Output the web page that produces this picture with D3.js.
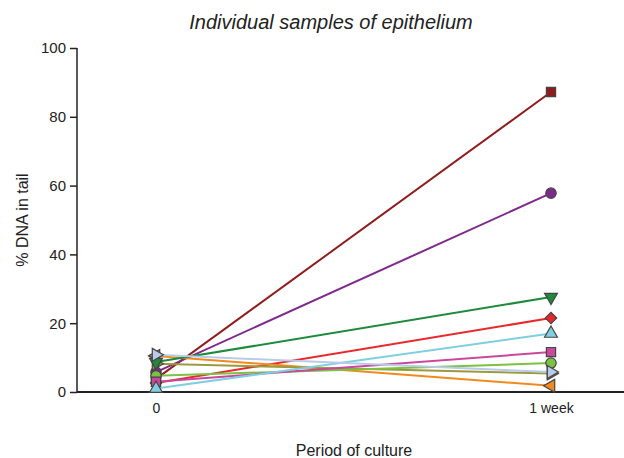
<!DOCTYPE html>
<html>
<head>
<meta charset="utf-8">
<script src="https://cdn.jsdelivr.net/npm/d3@7"></script>
<style>
body { margin: 0; background: #fff; }
text { font-family: "Liberation Sans", Arial, sans-serif; fill: #222; }
</style>
</head>
<body>
<div id="chart"></div>
<script>
var periods = ['0', '1 week'];
var samples = ['s1', 's2', 's3', 's4', 's5', 's6', 's7', 's8', 's9', 's10'];
var week0 = [3.8, 5.8, 2.6, 10.5, 8.2, 4.7, 3.0, 1.0, 8.7, 10.8];
var week1 = [87.2, 57.8, 21.5, 1.8, 5.4, 8.4, 11.6, 17.0, 27.6, 5.8];
var colors = ['#8f1d1d', '#7d2a8c', '#e8282a', '#f08a1e', '#9c9a3e', '#7cc242', '#c9489b', '#7fcfe0', '#1e8a3c', '#b9cbe9'];
var shapes = ['square', 'circle', 'diamond', 'left', 'right', 'circle', 'square', 'up', 'down', 'right'];
var yTicks = [0, 20, 40, 60, 80, 100];

var margin = {top: 48, bottom: 66, left: 77, right: 0};
var width = 624 - margin.left - margin.right,
    height = 458 - margin.top - margin.bottom;

var svg = d3.select('#chart').append('svg')
    .attr('width', 624)
    .attr('height', 458);

var g = svg.append('g')
    .attr('transform', 'translate(' + margin.left + ',' + margin.top + ')');

var x = d3.scalePoint()
    .domain(periods)
    .range([79, 474]);

var y = d3.scaleLinear()
    .domain([0, 100])
    .range([height, 0]);

var yAxisCall = d3.axisLeft(y).tickValues(yTicks).tickSize(7).tickPadding(4);
var yAxis = g.append('g')
    .attr('class', 'y-axis')
    .call(yAxisCall);
yAxis.select('.domain').attr('stroke', '#222').attr('stroke-width', 1.5)
    .attr('d', 'M0,0V' + height);
yAxis.selectAll('.tick line').attr('stroke', '#222').attr('stroke-width', 1.5);
yAxis.selectAll('text').attr('font-size', '15px').attr('fill', '#222');

var xAxisCall = d3.axisBottom(x).tickSize(0).tickPadding(11);
var xAxis = g.append('g')
    .attr('class', 'x-axis')
    .attr('transform', 'translate(0,' + height + ')')
    .call(xAxisCall);
xAxis.select('.domain').attr('stroke', '#222').attr('stroke-width', 2)
    .attr('d', 'M0,0H' + width);
xAxis.selectAll('text').attr('font-size', '14px').attr('fill', '#222');

var series = samples.map(function (s, i) {
    return {name: s, values: [week0[i], week1[i]], color: colors[i], shape: shapes[i]};
});

var line = d3.line()
    .x(function (d, i) { return x(periods[i]); })
    .y(function (d) { return y(d); });

g.selectAll('.series-line')
    .data(series)
    .enter()
    .append('path')
    .attr('class', 'series-line')
    .attr('fill', 'none')
    .attr('stroke', function (d) { return d.color; })
    .attr('stroke-width', 2)
    .attr('d', function (d) { return line(d.values); });

function symbolFor(shape) {
    if (shape === 'circle') return {type: d3.symbolCircle, size: 85, rot: 0};
    if (shape === 'square') return {type: d3.symbolSquare, size: 85, rot: 0};
    if (shape === 'diamond') return {type: d3.symbolSquare, size: 65, rot: 45};
    var rot = {up: 0, right: 90, down: 180, left: -90}[shape];
    return {type: d3.symbolTriangle, size: 72, rot: rot};
}

series.forEach(function (s) {
    var sym = symbolFor(s.shape);
    g.selectAll(null)
        .data(s.values)
        .enter()
        .append('path')
        .attr('d', d3.symbol().type(sym.type).size(sym.size))
        .attr('transform', function (d, i) {
            return 'translate(' + x(periods[i]) + ',' + y(d) + ') rotate(' + sym.rot + ')';
        })
        .attr('fill', s.color)
        .attr('stroke', '#444')
        .attr('stroke-width', 1.2);
});

svg.append('text')
    .attr('x', 331)
    .attr('y', 29)
    .attr('text-anchor', 'middle')
    .attr('font-size', '20px')
    .attr('font-style', 'italic')
    .text('Individual samples of epithelium');

svg.append('text')
    .attr('transform', 'translate(28,' + (margin.top + height / 2) + ') rotate(-90)')
    .attr('text-anchor', 'middle')
    .attr('font-size', '16px')
    .text('% DNA in tail');

svg.append('text')
    .attr('x', 354)
    .attr('y', 456)
    .attr('text-anchor', 'middle')
    .attr('font-size', '16px')
    .text('Period of culture');
</script>
</body>
</html>
